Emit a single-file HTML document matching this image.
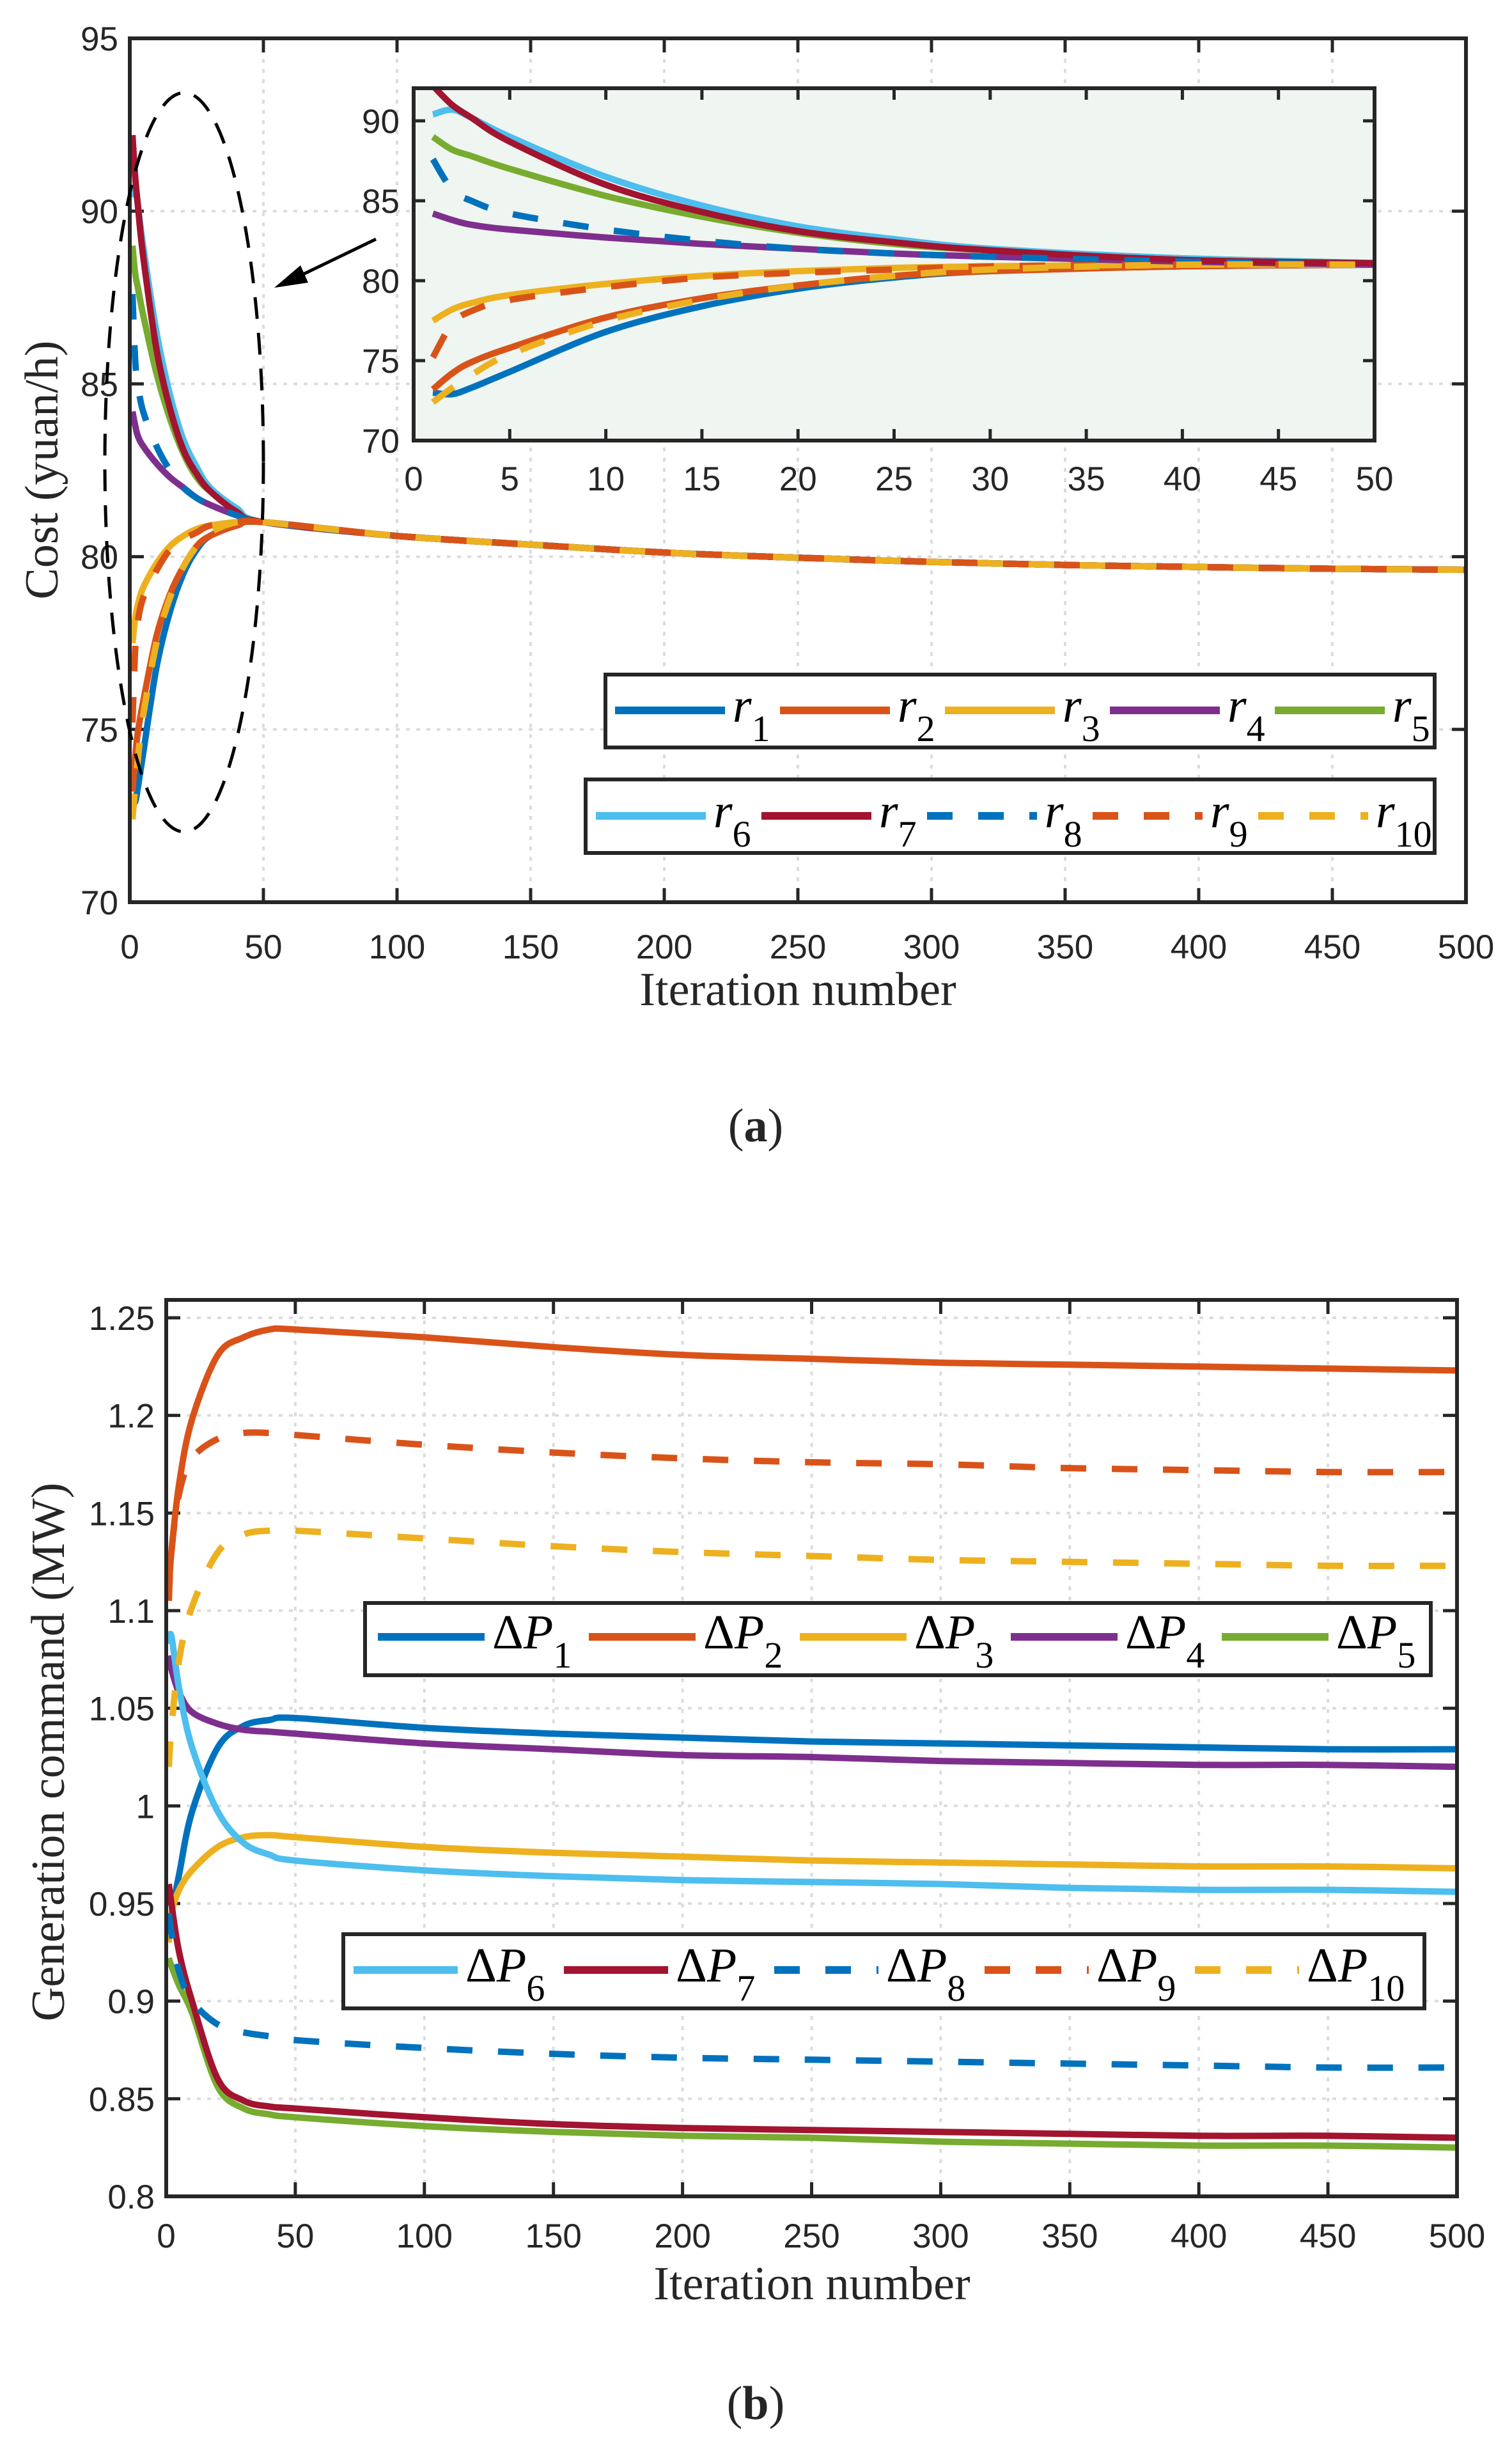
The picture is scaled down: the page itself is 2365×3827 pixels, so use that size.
<!DOCTYPE html>
<html><head><meta charset="utf-8">
<style>
html,body{margin:0;padding:0;background:#fff;}
svg{display:block;}
text{font-family:"Liberation Sans",sans-serif;fill:#262626;}
.tk{font-size:53px;}
.lab{font-family:"Liberation Serif",serif;font-size:74px;fill:#262626;}
.lg{font-family:"Liberation Serif",serif;fill:#000;}
</style></head>
<body>
<svg id="fig" width="2365" height="3827" viewBox="0 0 2365 3827" xmlns="http://www.w3.org/2000/svg">
<defs>
<clipPath id="clipA"><rect x="203" y="60" width="2090" height="1351"/></clipPath>
<clipPath id="clipIn"><rect x="647" y="138" width="1503" height="551"/></clipPath>
<clipPath id="clipB"><rect x="260" y="2033" width="2019" height="1402"/></clipPath>
</defs>
<g id="gA"></g>
<g id="gB"></g>
</svg>
<script>
// ---------- Chart (a) data ----------
const ITER_A = [1,2,3,5,10,15,20,25,30,40,50];
const r1  = [73.0,72.9,73.3,74.3,76.8,78.4,79.5,80.2,80.6,80.9,81.0];
const r2  = [73.2,74.2,74.9,75.8,77.7,78.9,79.7,80.3,80.6,80.9,81.0];
const r3  = [77.5,78.2,78.6,79.1,79.8,80.3,80.6,80.8,80.9,81.0,81.0];
const r4  = [84.2,83.8,83.5,83.2,82.7,82.3,82.0,81.7,81.5,81.2,81.0];
const r5  = [89.0,88.2,87.8,87.0,85.3,84.0,83.0,82.3,81.9,81.4,81.1];
const r6  = [90.4,90.7,90.2,89.0,86.5,84.7,83.4,82.6,82.0,81.4,81.1];
const r7  = [92.2,91.0,90.2,88.7,86.0,84.3,83.1,82.4,81.9,81.3,81.1];
const r8  = [87.6,85.7,85.0,84.2,83.2,82.5,82.0,81.7,81.5,81.2,81.0];
const r9  = [75.2,77.3,78.1,78.8,79.6,80.2,80.5,80.7,80.9,81.0,81.0];
const r10 = [72.4,73.3,74.1,75.4,77.5,78.8,79.7,80.3,80.7,81.0,81.0];
const ITER_TAIL = [50,100,150,200,250,300,350,400,450,500];
const tailA = [81.0,80.6,80.35,80.12,79.97,79.85,79.76,79.7,79.65,79.62];
const A_X_TICKS = [0,50,100,150,200,250,300,350,400,450,500];
const A_Y_TICKS = [70,75,80,85,90,95];
const IN_X_TICKS = [0,5,10,15,20,25,30,35,40,45,50];
const IN_Y_TICKS = [70,75,80,85,90];
const A_NAMES = ["1","2","3","4","5","6","7","8","9","10"];

// ---------- Chart (b) data ----------
const ITER_B = [1,2,5,10,20,30,40,50,100,150,200,250,300,350,400,450,500];
const P1  = [0.94,0.945,0.965,0.997,1.03,1.041,1.044,1.045,1.04,1.037,1.035,1.033,1.032,1.031,1.03,1.029,1.029];
const P2  = [1.11,1.13,1.165,1.198,1.231,1.24,1.244,1.244,1.24,1.235,1.231,1.229,1.227,1.226,1.225,1.224,1.223];
const P3  = [0.93,0.945,0.957,0.967,0.979,0.984,0.985,0.984,0.979,0.976,0.974,0.972,0.971,0.97,0.969,0.969,0.968];
const P4  = [1.077,1.07,1.058,1.048,1.042,1.039,1.038,1.037,1.032,1.029,1.026,1.025,1.023,1.022,1.021,1.021,1.02];
const P5  = [0.922,0.918,0.908,0.894,0.856,0.845,0.842,0.8405,0.836,0.833,0.831,0.83,0.828,0.827,0.826,0.826,0.825];
const P6  = [1.083,1.087,1.06,1.03,0.997,0.981,0.975,0.972,0.967,0.964,0.962,0.961,0.96,0.958,0.957,0.957,0.956];
const P7  = [0.96,0.95,0.925,0.9,0.86,0.849,0.846,0.845,0.8405,0.837,0.835,0.834,0.833,0.832,0.831,0.831,0.83];
const P8  = [0.945,0.935,0.915,0.9,0.888,0.884,0.882,0.88,0.876,0.873,0.871,0.87,0.869,0.868,0.867,0.866,0.866];
const P9  = [1.105,1.13,1.16,1.178,1.188,1.191,1.191,1.19,1.185,1.181,1.178,1.176,1.175,1.173,1.172,1.171,1.171];
const P10 = [1.02,1.04,1.075,1.102,1.13,1.139,1.141,1.141,1.137,1.133,1.13,1.128,1.126,1.125,1.124,1.123,1.123];
const B_X_TICKS = [0,50,100,150,200,250,300,350,400,450,500];
const B_Y_TICKS = [0.8,0.85,0.9,0.95,1,1.05,1.1,1.15,1.2,1.25];
const B_Y_LABELS = ["0.8","0.85","0.9","0.95","1","1.05","1.1","1.15","1.2","1.25"];

const COLORS = ["#0072BD","#D95319","#EDB120","#7E2F8E","#77AC30","#4DBEEE","#A2142F","#0072BD","#D95319","#EDB120"];
const DASHED = [false,false,false,false,false,false,false,true,true,true];
const NS = "http://www.w3.org/2000/svg";

function mk(parent, tag, attrs){
  const e = document.createElementNS(NS, tag);
  for (const k in attrs) e.setAttribute(k, attrs[k]);
  parent.appendChild(e);
  return e;
}
function scale(d0,d1,p0,p1){ return v => p0 + (v-d0)/(d1-d0)*(p1-p0); }
function smoothPath(pts){
  let d = "M"+pts[0][0].toFixed(1)+","+pts[0][1].toFixed(1);
  for (let i=0;i<pts.length-1;i++){
    const p0 = pts[Math.max(0,i-1)], p1 = pts[i], p2 = pts[i+1], p3 = pts[Math.min(pts.length-1,i+2)];
    const c1x = p1[0]+(p2[0]-p0[0])/6, c1y = p1[1]+(p2[1]-p0[1])/6;
    const c2x = p2[0]-(p3[0]-p1[0])/6, c2y = p2[1]-(p3[1]-p1[1])/6;
    d += " C"+c1x.toFixed(1)+","+c1y.toFixed(1)+" "+c2x.toFixed(1)+","+c2y.toFixed(1)+" "+p2[0].toFixed(1)+","+p2[1].toFixed(1);
  }
  return d;
}

function axesFrame(g, L, R, T, B, xs, ys, xt, yt, ylabels, opt){
  if (opt.grid){
    xt.forEach(v=>{ if (xs(v)>L+2 && xs(v)<R-2){
      const l = mk(g,"line",{x1:xs(v),x2:xs(v),y1:T,y2:B,stroke:"#dcdcdc","stroke-width":4,"stroke-dasharray":"6 10"});
      
      
    }});
    yt.forEach(v=>{ if (ys(v)>T+2 && ys(v)<B-2){
      const l = mk(g,"line",{x1:L,x2:R,y1:ys(v),y2:ys(v),stroke:"#dcdcdc","stroke-width":4,"stroke-dasharray":"6 10"});
      
      
    }});
  }
  xt.forEach(v=>{
    const x = xs(v);
    mk(g,"line",{x1:x,x2:x,y1:B,y2:B-opt.tl,stroke:"#262626","stroke-width":5});
    mk(g,"line",{x1:x,x2:x,y1:T,y2:T+opt.tl,stroke:"#262626","stroke-width":5});
    const t = mk(g,"text",{x:x,y:B+opt.xlOff,"text-anchor":"middle",class:"tk"});
    t.textContent = String(v);
    
    
  });
  yt.forEach((v,i)=>{
    const y = ys(v);
    mk(g,"line",{x1:L,x2:L+opt.tl,y1:y,y2:y,stroke:"#262626","stroke-width":5});
    mk(g,"line",{x1:R,x2:R-opt.tl,y1:y,y2:y,stroke:"#262626","stroke-width":5});
    const t = mk(g,"text",{x:L-opt.ylOff,y:y+19,"text-anchor":"end",class:"tk"});
    t.textContent = ylabels ? ylabels[i] : String(v);
    
    
  });
}
function drawSeries(g, iters, vals, xs, ys, i, clip, lw, name){
  const pts = iters.map((it,k)=>[xs(it), ys(vals[k])]);
  const p = mk(g,"path",{d:smoothPath(pts),fill:"none",stroke:COLORS[i],"stroke-width":lw,"clip-path":"url(#"+clip+")","stroke-linejoin":"round"});
  if (DASHED[i]) p.setAttribute("stroke-dasharray","40 40");
  
  
}
function legend(g, x0, y0, x1, y1, lineY, startX, step, lineLen, items, delta){
  const box = mk(g,"rect",{x:x0,y:y0,width:x1-x0,height:y1-y0,fill:"#fff",stroke:"#262626","stroke-width":6});
  
  
  items.forEach((idx,k)=>{
    const lx = startX + k*step;
    const ln = mk(g,"line",{x1:lx,x2:lx+lineLen,y1:lineY,y2:lineY,stroke:COLORS[idx],"stroke-width":12});
    if (DASHED[idx]) ln.setAttribute("stroke-dasharray","40 40");
    
    
    const t = mk(g,"text",{x:lx+lineLen+12,y:lineY+18,class:"lg","font-size":76});
    
    
    if (delta){
      const d = document.createElementNS(NS,"tspan"); d.textContent="Δ"; t.appendChild(d);
      const p = document.createElementNS(NS,"tspan"); p.setAttribute("font-style","italic"); p.textContent="P"; t.appendChild(p);
    } else {
      const p = document.createElementNS(NS,"tspan"); p.setAttribute("font-style","italic"); p.textContent="r"; t.appendChild(p);
    }
    const s = document.createElementNS(NS,"tspan"); s.setAttribute("font-size","58"); s.setAttribute("dy","30"); s.textContent = A_NAMES[idx]; t.appendChild(s);
  });
}

// ================= Chart A =================
(function(){
  const g = document.getElementById("gA");
  const L=203,R=2293,T=60,B=1411;
  const xs = scale(0,500,L,R), ys = scale(70,95,B,T);
  axesFrame(g,L,R,T,B,xs,ys,A_X_TICKS,A_Y_TICKS,null,{grid:true,tl:22,xlOff:88,ylOff:18});
  const all = [r1,r2,r3,r4,r5,r6,r7,r8,r9,r10];
  const full = ITER_A.slice(0,-1).concat(ITER_TAIL);
  all.forEach((s,i)=>{
    drawSeries(g, full, s.slice(0,-1).concat(tailA), xs, ys, i, "clipA", 10, "series-r"+(i+1));
  });
  mk(g,"rect",{x:L,y:T,width:R-L,height:B-T,fill:"none",stroke:"#262626","stroke-width":6});
  const el = mk(g,"ellipse",{cx:288,cy:723,rx:124,ry:578,fill:"none",stroke:"#000","stroke-width":5,"stroke-dasharray":"34 22"});
  
  
  const ar = mk(g,"line",{x1:588,y1:374,x2:445,y2:443,stroke:"#000","stroke-width":5});
  
  
  mk(g,"polygon",{points:"429,450 470,415 482,442",fill:"#000"});
  const IL=647,IR=2150,IT=138,IB=689;
  const bg = mk(g,"rect",{x:IL,y:IT,width:IR-IL,height:IB-IT,fill:"#eff5f0"});
  
  
  const ixs = scale(0,50,IL,IR), iys = scale(70,92.04,IB,IT);
  const ig = mk(g,"g",{});
  
  
  axesFrame(ig,IL,IR,IT,IB,ixs,iys,IN_X_TICKS,IN_Y_TICKS,null,{grid:false,tl:18,xlOff:78,ylOff:22});
  all.forEach((s,i)=> drawSeries(ig, ITER_A, s, ixs, iys, i, "clipIn", 10, "inset-series-r"+(i+1)));
  mk(ig,"rect",{x:IL,y:IT,width:IR-IL,height:IB-IT,fill:"none",stroke:"#262626","stroke-width":6});
  legend(g,947,1055,2244,1169,1111,962,258,172,[0,1,2,3,4],false);
  legend(g,916,1219,2244,1334,1276,932,259,172,[5,6,7,8,9],false);
  const xl = mk(g,"text",{x:1248,y:1572,"text-anchor":"middle",class:"lab"}); xl.textContent="Iteration number";
   
  const yl = mk(g,"text",{x:0,y:0,"text-anchor":"middle",class:"lab",transform:"translate(90,735) rotate(-90)"}); yl.textContent="Cost (yuan/h)";
   
  const cap = mk(g,"text",{x:1182,y:1785,"text-anchor":"middle",class:"lab"});
  cap.innerHTML = '(<tspan font-weight="bold">a</tspan>)';
   
})();

// ================= Chart B =================
(function(){
  const g = document.getElementById("gB");
  const L=260,R=2279,T=2033,B=3435;
  const xs = scale(0,500,L,R), ys = scale(0.8,1.25,B,2061);
  axesFrame(g,L,R,T,B,xs,ys,B_X_TICKS,B_Y_TICKS,B_Y_LABELS,{grid:true,tl:22,xlOff:80,ylOff:18});
  const all = [P1,P2,P3,P4,P5,P6,P7,P8,P9,P10];
  all.forEach((s,i)=> drawSeries(g, ITER_B, s, xs, ys, i, "clipB", 10, "series-dp"+(i+1)));
  mk(g,"rect",{x:L,y:T,width:R-L,height:B-T,fill:"none",stroke:"#262626","stroke-width":6});
  legend(g,571,2507,2238,2620,2560,591,330,167,[0,1,2,3,4],true);
  legend(g,537,3025,2228,3141,3081,553,329,163,[5,6,7,8,9],true);
  const xl = mk(g,"text",{x:1270,y:3596,"text-anchor":"middle",class:"lab"}); xl.textContent="Iteration number";
   
  const yl = mk(g,"text",{x:0,y:0,"text-anchor":"middle",class:"lab",transform:"translate(100,2740) rotate(-90)"}); yl.textContent="Generation command (MW)";
   
  const cap = mk(g,"text",{x:1182,y:3783,"text-anchor":"middle",class:"lab"});
  cap.innerHTML = '(<tspan font-weight="bold">b</tspan>)';
   
})();
</script>
</body></html>
